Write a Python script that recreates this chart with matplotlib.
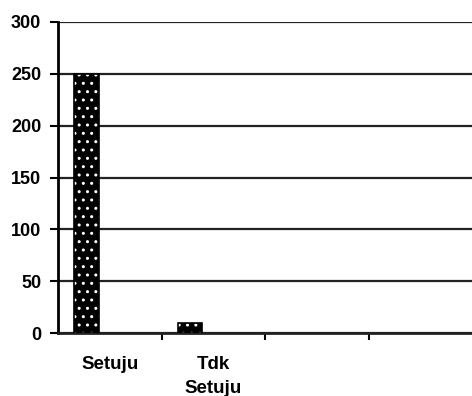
import numpy as np
import matplotlib
matplotlib.use("Agg")
import matplotlib.pyplot as plt

categories = ["Setuju", "Tdk\nSetuju", "", ""]
values = [250, 10, 0, 0]
y_ticks = [0, 50, 100, 150, 200, 250, 300]

plt.rcParams['font.family'] = ['Liberation Sans', 'DejaVu Sans']
plt.rcParams['font.weight'] = 'bold'

fig = plt.figure(figsize=(4.72, 3.96), dpi=100)
ax = fig.add_axes([58 / 472, 63 / 396, 1 - 58 / 472, (333 - 22) / 396])

x = np.arange(len(categories))
offset = -0.225
width = 0.24
shown = [i for i, v in enumerate(values) if v > 0]
xs = x[shown] + offset
vs = [values[i] for i in shown]

# black fill with white dotted hatch, then a black outline on top
ax.bar(xs, vs, width=width, color='black', edgecolor='white', hatch='..',
       linewidth=0, zorder=3)
ax.bar(xs, vs, width=width, fill=False, edgecolor='black', linewidth=1.2, zorder=4)

ax.set_xlim(-0.5, len(categories) - 0.5)
ax.set_ylim(0, 300)
ax.set_yticks(y_ticks)
ax.set_yticklabels([str(t) for t in y_ticks], fontsize=13, fontweight='bold')

ax.set_xticks(x)
ax.set_xticklabels(categories, fontsize=13.5, fontweight='bold', linespacing=1.55, va='top')
ax.set_xticks(np.arange(len(categories) - 1) + 0.5, minor=True)
ax.tick_params(axis='x', which='major', length=0, pad=16.5)
ax.tick_params(axis='x', which='minor', length=5, width=1.5, direction='out')
ax.tick_params(axis='y', length=6, width=1.5, direction='out', pad=6)

ax.yaxis.grid(True, color='#222222', linewidth=1.6, zorder=1)
ax.set_axisbelow(True)

for side in ['top', 'right']:
    ax.spines[side].set_visible(False)
ax.spines['left'].set_linewidth(2)
ax.spines['bottom'].set_linewidth(2)
ax.spines['bottom'].set_color('#222222')

fig.savefig("out.png", dpi=100)
